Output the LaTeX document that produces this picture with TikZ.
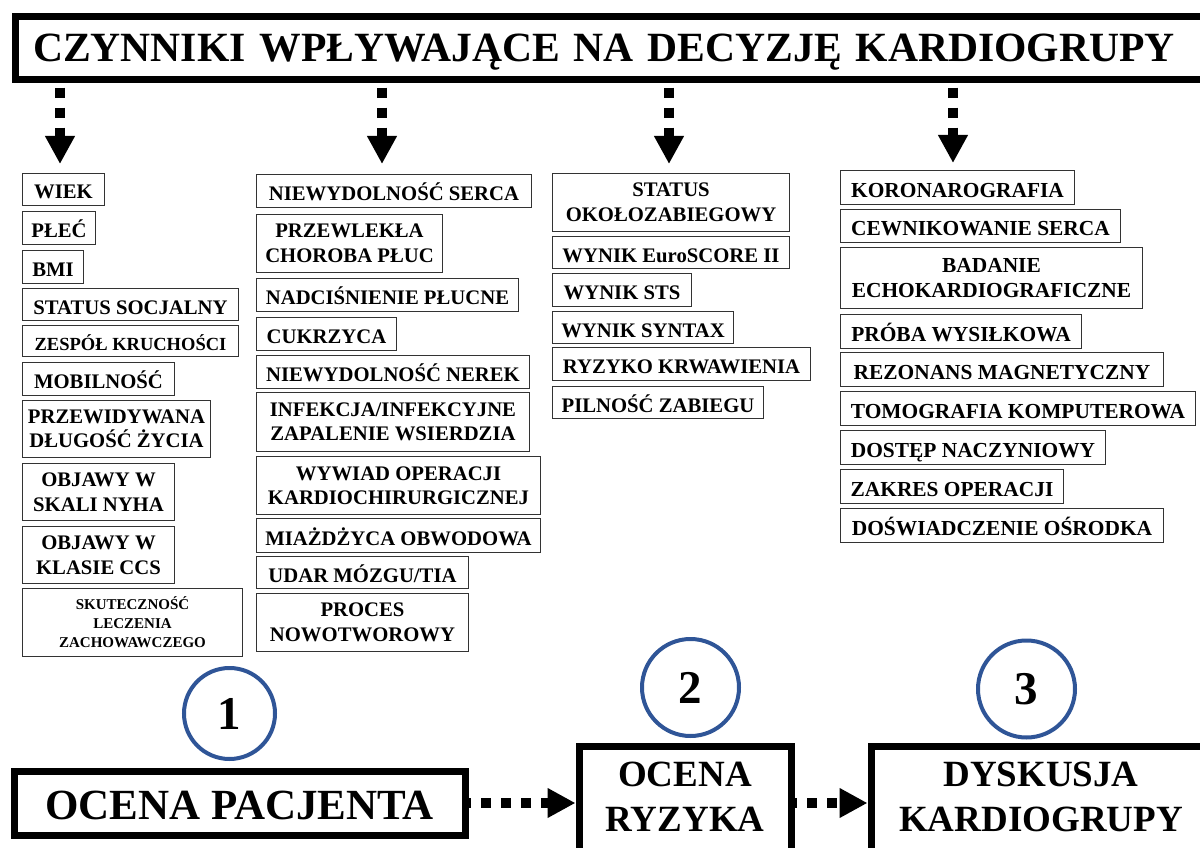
\documentclass[tikz,border=0pt]{standalone}
\usepackage{fontspec}
\setmainfont{Liberation Serif}
\usetikzlibrary{arrows.meta}
\definecolor{circblue}{RGB}{47,85,151}

\begin{document}
\begin{tikzpicture}[x=1pt, y=-1pt,
  factor/.style={draw=black!80, line width=1pt, anchor=north west, inner sep=0pt, align=center,
    font=\bfseries\fontsize{20.7}{24.5}\selectfont},
  single/.style={factor, text height=19pt, text depth=0pt},
  diag/.style={single, font=\bfseries\fontsize{21.4}{25}\selectfont},
  bigbox/.style={draw, line width=7pt, inner sep=0pt, align=center},
  stepnum/.style={circle, draw=circblue, line width=4pt, inner sep=0pt,
    font=\bfseries\fontsize{47}{47}\selectfont},
  dotarrow/.style={-{Triangle[length=28pt, width=28pt]}, line width=10pt, dash pattern=on 10pt off 10pt}]

\useasboundingbox (0,0) rectangle (1200,848);

% title
\node[bigbox, anchor=west, minimum height=63.5pt, text width=1240pt, inner xsep=17.5pt, align=left,
  text height=27.3pt, text depth=0pt, font=\bfseries\fontsize{41.6}{42}\selectfont]
  at (12, 48) (tytul) {CZYNNIKI WPŁYWAJĄCE NA DECYZJĘ KARDIOGRUPY};

% patient
\node[single, minimum width=82pt, minimum height=32pt] at (22, 173) (wiek) {WIEK};
\node[single, minimum width=73pt, minimum height=33pt] at (22, 211) (plec) {PŁEĆ};
\node[single, minimum width=61pt, minimum height=33pt] at (22, 250) (bmi) {BMI};
\node[single, minimum width=216pt, minimum height=32pt] at (22, 288) (socjal) {STATUS SOCJALNY};
\node[single, minimum width=216pt, minimum height=31pt, font=\bfseries\fontsize{18.5}{22}\selectfont]
  at (22, 325) (kruchosc) {ZESPÓŁ KRUCHOŚCI};
\node[single, minimum width=152pt, minimum height=33pt] at (22, 362) (mobilnosc) {MOBILNOŚĆ};
\node[factor, minimum width=188pt, minimum height=57pt] at (22, 400) (dlugosc) {PRZEWIDYWANA\\DŁUGOŚĆ ŻYCIA};
\node[factor, minimum width=152pt, minimum height=57pt] at (22, 463) (nyha) {OBJAWY W\\SKALI NYHA};
\node[factor, minimum width=152pt, minimum height=57pt] at (22, 526) (ccs) {OBJAWY W\\KLASIE CCS};
\node[factor, minimum width=220pt, minimum height=68pt, font=\bfseries\fontsize{15}{19}\selectfont]
  at (22, 588) (skutecznosc) {SKUTECZNOŚĆ\\LECZENIA\\ZACHOWAWCZEGO};

% comorbidities
\node[single, minimum width=275pt, minimum height=33pt] at (256, 174) (serce) {NIEWYDOLNOŚĆ SERCA};
\node[factor, minimum width=186pt, minimum height=58pt] at (256, 214) (pluca) {PRZEWLEKŁA\\CHOROBA PŁUC};
\node[single, minimum width=262pt, minimum height=33pt] at (256, 278) (nadcisnienie) {NADCIŚNIENIE PŁUCNE};
\node[single, minimum width=140pt, minimum height=33pt] at (256, 317) (cukrzyca) {CUKRZYCA};
\node[single, minimum width=273pt, minimum height=33pt] at (256, 355) (nerki) {NIEWYDOLNOŚĆ NEREK};
\node[factor, minimum width=273pt, minimum height=59pt] at (256, 392) (wsierdzie) {INFEKCJA/INFEKCYJNE\\ZAPALENIE WSIERDZIA};
\node[factor, minimum width=284pt, minimum height=58pt] at (256, 456) (wywiad) {WYWIAD OPERACJI\\KARDIOCHIRURGICZNEJ};
\node[single, minimum width=284pt, minimum height=34pt] at (256, 518) (miazdzyca) {MIAŻDŻYCA OBWODOWA};
\node[single, minimum width=212pt, minimum height=32pt] at (256, 556) (udar) {UDAR MÓZGU/TIA};
\node[factor, minimum width=212pt, minimum height=58pt] at (256, 593) (nowotwor) {PROCES\\NOWOTWOROWY};

% risk
\node[factor, minimum width=237pt, minimum height=58pt] at (552, 173) (okolo) {STATUS\\OKOŁOZABIEGOWY};
\node[single, minimum width=237pt, minimum height=32pt] at (552, 236) (euroscore) {WYNIK EuroSCORE II};
\node[single, minimum width=139pt, minimum height=33pt] at (552, 273) (sts) {WYNIK STS};
\node[single, minimum width=181pt, minimum height=32pt] at (552, 311) (syntax) {WYNIK SYNTAX};
\node[single, minimum width=258pt, minimum height=33pt] at (552, 347) (krwawienie) {RYZYKO KRWAWIENIA};
\node[single, minimum width=211pt, minimum height=32pt] at (552, 386) (pilnosc) {PILNOŚĆ ZABIEGU};

% diagnostics
\node[diag, minimum width=234pt, minimum height=34pt] at (840, 170) (koronaro) {KORONAROGRAFIA};
\node[diag, minimum width=280pt, minimum height=33pt] at (840, 209) (cewnik) {CEWNIKOWANIE SERCA};
\node[factor, minimum width=302pt, minimum height=61pt, font=\bfseries\fontsize{21.4}{25}\selectfont]
  at (840, 247) (echo) {BADANIE\\ECHOKARDIOGRAFICZNE};
\node[diag, minimum width=241pt, minimum height=34pt] at (840, 314) (wysilek) {PRÓBA WYSIŁKOWA};
\node[diag, minimum width=323pt, minimum height=34pt] at (840, 352) (rezonans) {REZONANS MAGNETYCZNY};
\node[diag, minimum width=355pt, minimum height=34pt] at (840, 391) (tomografia) {TOMOGRAFIA KOMPUTEROWA};
\node[diag, minimum width=265pt, minimum height=34pt] at (840, 430) (dostep) {DOSTĘP NACZYNIOWY};
\node[diag, minimum width=223pt, minimum height=34pt] at (840, 469) (zakres) {ZAKRES OPERACJI};
\node[diag, minimum width=323pt, minimum height=34pt] at (840, 508) (osrodek) {DOŚWIADCZENIE OŚRODKA};

\draw[dotarrow] ([yshift=-4.5pt]tytul.south -| 60,0) -- ([yshift=9pt]wiek.north -| 60,0);
\draw[dotarrow] ([yshift=-4.5pt]tytul.south -| 382,0) -- ([yshift=10pt]serce.north -| 382,0);
\draw[dotarrow] ([yshift=-4.5pt]tytul.south -| 669,0) -- ([yshift=9pt]okolo.north -| 669,0);
\draw[dotarrow] ([yshift=-4.5pt]tytul.south -| 953,0) -- ([yshift=7pt]koronaro.north -| 953,0);

% steps
\node[stepnum, minimum size=91pt] at (229.5, 713.5) (num1) {1};
\node[stepnum, minimum size=97pt] at (690.5, 687.5) (num2) {2};
\node[stepnum, minimum size=97pt] at (1026.5, 689) (num3) {3};

\node[bigbox, minimum width=451pt, minimum height=64pt, text height=32pt, text depth=0pt,
  font=\bfseries\fontsize{43}{43}\selectfont] at (239.5, 803) (ocenapac) {OCENA PACJENTA};
\node[bigbox, minimum width=212pt, minimum height=114pt, font=\bfseries\fontsize{37}{45}\selectfont]
  at (685, 803) (ocenaryz) {OCENA\\RYZYKA\rule[-12pt]{0pt}{12pt}};
\node[bigbox, minimum width=340pt, minimum height=114pt, font=\bfseries\fontsize{37}{45}\selectfont]
  at (1041, 803) (dyskusja) {DYSKUSJA\\KARDIOGRUPY\rule[-12pt]{0pt}{12pt}};

\draw[dotarrow, dash phase=7.5pt] (ocenapac.east) -- (ocenapac.east -| ocenaryz.west);
\draw[dotarrow, dash phase=7.5pt] (ocenaryz.east) -- (dyskusja.west);
\end{tikzpicture}
\end{document}
